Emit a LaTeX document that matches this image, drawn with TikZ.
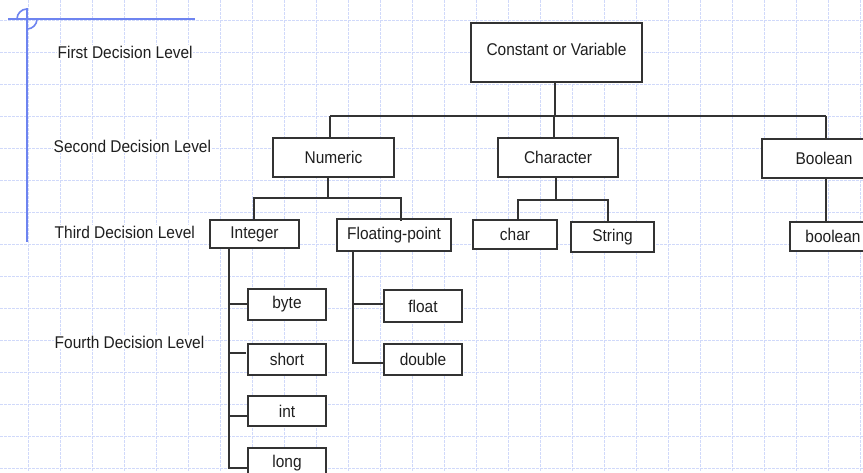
\documentclass[tikz,border=0pt]{standalone}
\usepackage{fontspec}
\setmainfont{Liberation Sans}[FakeStretch=0.91]
\begin{document}
\begin{tikzpicture}[x=1pt,y=-1pt,
  gridline/.style={draw={rgb,255:red,208;green,217;blue,250},line width=0.9pt,dash pattern=on 2.5pt off 1.5pt},
  marginline/.style={draw={rgb,255:red,110;green,132;blue,240},line width=1.6pt},
  box/.style={draw=black!80,fill=white,line width=1.1pt,rectangle,inner sep=0pt,
    font=\fontsize{17}{20}\selectfont,text=black!88},
  levellabel/.style={anchor=west,fill=white,inner sep=0.5pt,
    font=\fontsize{17}{20}\selectfont,text=black!88},
  link/.style={draw=black!80,line width=1.1pt}]
\useasboundingbox (0,0) rectangle (863,472);
\fill[white] (0,0) rectangle (863,472);

% background grid
\foreach \gx in {28,60,...,860} \draw[gridline] (\gx,0) -- (\gx,472);
\foreach \gy in {20,52,...,468} \draw[gridline] (0,\gy) -- (863,\gy);

% margin lines with crosshair ring
\coordinate (mc) at (27,19);
\draw[marginline] (8,19) -- (195,19);
\draw[marginline] (27,8) -- (27,242);
\draw[marginline] (mc) ++(-10,0) arc[start angle=180,end angle=270,radius=10];
\draw[marginline] (mc) ++(10,0) arc[start angle=0,end angle=90,radius=10];

% level labels
\node[levellabel] (l1) at (57,52) {First Decision Level};
\node[levellabel] (l2) at (53,146) {Second Decision Level};
\node[levellabel] (l3) at (54,232) {Third Decision Level};
\node[levellabel] (l4) at (54,342) {Fourth Decision Level};

% boxes
\node[box,minimum width=171pt,minimum height=59pt] (cv) at (556.5,52.5) {\raisebox{6pt}{Constant or Variable}};
\node[box,minimum width=121pt,minimum height=39pt] (num) at (333.5,157.5) {Numeric};
\node[box,minimum width=120pt,minimum height=39pt] (chr) at (558,157.5) {Character};
\node[box,minimum width=124pt,minimum height=39pt] (bool) at (824,158.5) {Boolean};

\node[box,minimum width=89pt,minimum height=28pt] (intg) at (254.5,234) {Integer};
\node[box,minimum width=114pt,minimum height=32pt] (flt) at (394,235) {Floating-point};
\node[box,minimum width=84pt,minimum height=29pt] (ch) at (515,234.5) {char};
\node[box,minimum width=83pt,minimum height=30pt] (str) at (612.5,237) {String};
\node[box,minimum width=86pt,minimum height=29pt] (bl) at (833,236.5) {boolean};

\node[box,minimum width=78pt,minimum height=31pt] (byte) at (287,304.5) {byte};
\node[box,minimum width=78pt,minimum height=31pt] (short) at (287,359.5) {short};
\node[box,minimum width=78pt,minimum height=30pt] (int) at (287,411) {int};
\node[box,minimum width=78pt,minimum height=30pt] (long) at (287,463) {long};
\node[box,minimum width=78pt,minimum height=32pt] (float) at (423,306) {float};
\node[box,minimum width=78pt,minimum height=31pt] (dbl) at (423,359.5) {double};

% first to second level
\coordinate (busL) at (330,116);
\coordinate (busR) at (826,116);
\coordinate (busC) at (554,116);
\draw[link] (busL) -- (busR);
\draw[link] (cv.south -| 555,0) -- (busL -| 555,0);
\draw[link] (busL) -- (busL |- num.north);
\draw[link] (busC) -- (busC |- chr.north);
\draw[link] (busR) -- (busR |- bool.north);

% Numeric to its types
\coordinate (nL) at (254,198);
\coordinate (nR) at (401,198);
\draw[link] (num.south -| 328,0) -- (nL -| 328,0);
\draw[link] (nL |- intg.north) -- (nL) -- (nR) -- ([yshift=-3pt]nR |- flt.north);

% Character to its types
\coordinate (cL) at (518,200);
\coordinate (cR) at (608,200);
\draw[link] (chr.south -| 556,0) -- (cL -| 556,0);
\draw[link] (cL |- ch.north) -- (cL) -- (cR) -- ([yshift=-1pt]cR |- str.north);

% Boolean to boolean
\draw[link] (bool.south -| 826,0) -- (bl.north -| 826,0);

% Integer spine
\coordinate (iTop) at (229,248);
\coordinate (iBot) at (229,468);
\draw[link] (iTop) -- (iBot) -- (long.west |- iBot);
\draw[link] (iTop |- 0,304) -- (byte.west |- 0,304);
\draw[link] (iTop |- 0,353) -- (246,353);
\draw[link] (iTop |- 0,416) -- (int.west |- 0,416);

% Floating-point spine
\coordinate (fTop) at (353,251);
\coordinate (fBot) at (353,363);
\draw[link] (fTop) -- (fBot) -- (dbl.west |- fBot);
\draw[link] (fTop |- 0,304) -- (float.west |- 0,304);
\end{tikzpicture}
\end{document}
